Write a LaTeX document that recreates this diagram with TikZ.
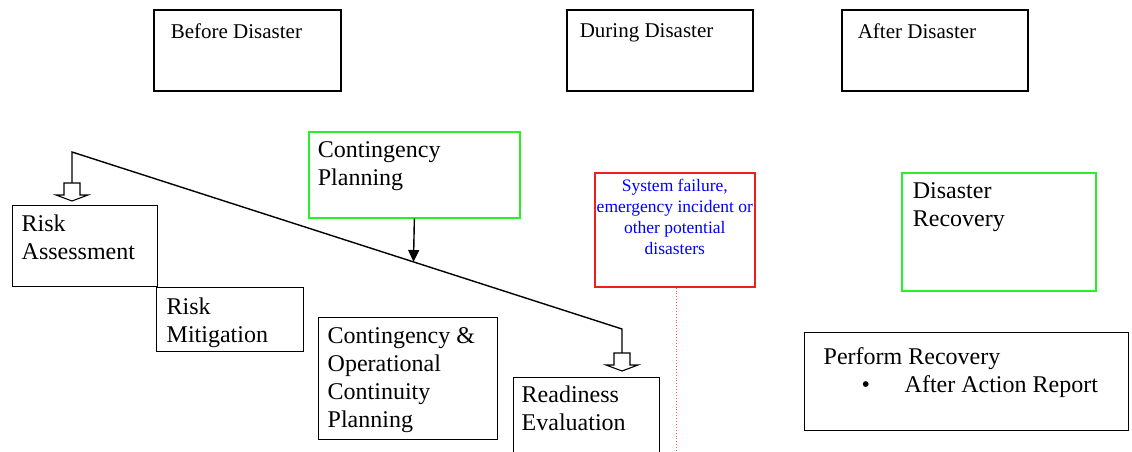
\documentclass[tikz,border=0pt]{standalone}
\usepackage{fontspec}
\setmainfont{Liberation Serif}
\usetikzlibrary{arrows.meta}
\definecolor{boxgreen}{RGB}{40,240,40}
\definecolor{boxred}{RGB}{240,30,30}
\definecolor{txtblue}{RGB}{0,0,255}
\definecolor{dotred}{RGB}{235,90,90}
\newcommand\bx[9]{\node[#1, anchor=north west, inner xsep=#7pt, inner ysep=#8pt] (#2) at (#3,#4)
  {\parbox[t][\dimexpr #6pt-#8pt*2\relax][t]{\dimexpr #5pt-#7pt*2\relax}{#9}};}
\begin{document}
\begin{tikzpicture}[x=1pt,y=-1pt,
  plainbox/.style={draw=black, line width=1.4pt, font=\fontsize{24}{28}\selectfont},
  headbox/.style={draw=black, line width=1.6pt, font=\fontsize{21}{25}\selectfont},
  greenbox/.style={draw=boxgreen, line width=1.7pt, font=\fontsize{24}{28}\selectfont},
  redbox/.style={draw=boxred, line width=1.6pt, text=txtblue, font=\fontsize{17.5}{21}\selectfont},
  conn/.style={draw=black, line width=1.4pt},
  reddot/.style={draw=dotred, line width=0.9pt, dotted},
  blockarrow/.pic={\draw[line width=1.1pt, fill=white] (-8,0) -- (8,0) -- (8,12) -- (16,12) -- (0,18) -- (-16,12) -- (-8,12) -- cycle;}
]
\useasboundingbox (0,0) rectangle (1132,452);
% headers
\bx{headbox}{before}{153}{9}{187}{81}{17}{14}{\raggedright Before Disaster}
\bx{headbox}{during}{566}{9}{186}{81}{13}{14}{\raggedright During Disaster}
\bx{headbox}{after}{841}{9}{186}{81}{16}{14}{\raggedright After Disaster}
% before disaster boxes
\bx{greenbox}{cp}{308}{131}{211}{86}{9}{10}{\raggedright Contingency\\Planning}
\bx{plainbox}{ra}{12}{205}{145}{81}{9}{9}{\raggedright Risk\\Assessment}
\bx{plainbox}{rm}{156}{287}{147}{64}{10}{10}{\raggedright Risk\\Mitigation}
\bx{plainbox}{cop}{318}{317}{179}{122}{9}{10}{\raggedright Contingency \&\\Operational\\Continuity\\Planning}
\bx{plainbox}{re}{513}{377}{146}{82}{8}{8}{\raggedright Readiness\\Evaluation}
% during
\bx{redbox}{sf}{594}{172}{160}{114}{1}{6}{\centering System failure,\\emergency incident or\\other potential\\disasters}
% after
\bx{greenbox}{dr}{901}{172}{194}{118}{11}{10}{\raggedright Disaster\\Recovery}
\bx{plainbox}{pr}{804}{332}{324}{98}{19}{15}{\raggedright Perform Recovery\\\hspace*{38pt}\makebox[43pt][l]{\textbullet}After Action Report}
% connectors
\coordinate (c0) at (72,152);
\coordinate (c1) at (622,329);
\coordinate (a1) at (72,183);
\coordinate (a2) at (622,353);
\coordinate (hit) at (413.5,262);
\coordinate (rd) at (676,452);
\draw[conn] (a1) -- (c0) -- (c1) -- (a2);
\pic at (a1) {blockarrow};
\pic at (a2) {blockarrow};
\draw[conn, -{Triangle[length=12pt,width=11pt]}] (cp.south) -- (hit);
\draw[reddot] (sf.south -| rd) -- (rd);
\end{tikzpicture}
\end{document}
